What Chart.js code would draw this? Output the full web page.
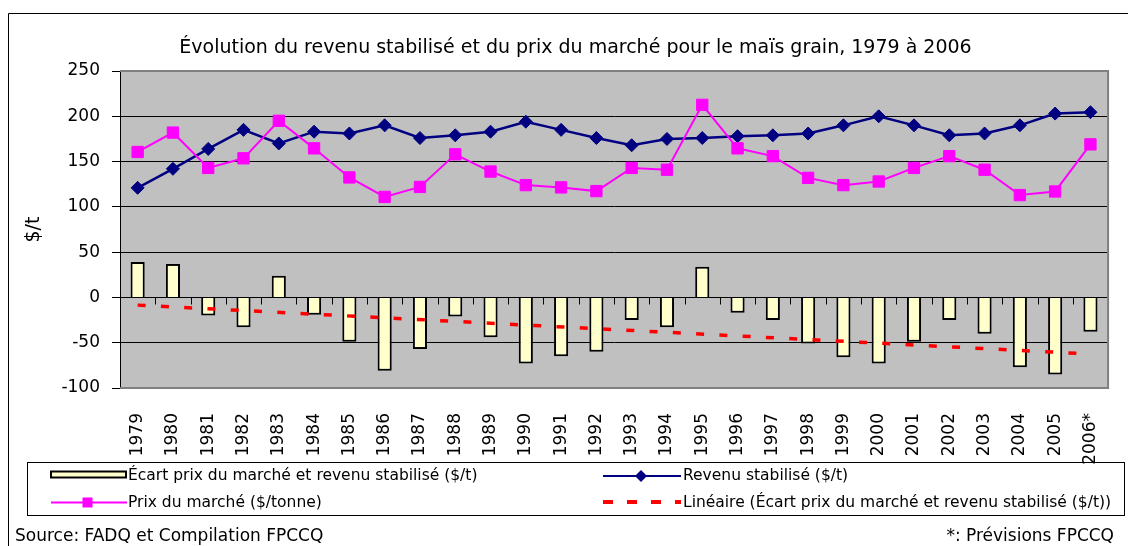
<!DOCTYPE html>
<html>
<head>
<meta charset="utf-8">
<script src="https://cdn.jsdelivr.net/npm/chart.js@4/dist/chart.umd.min.js"></script>
<style>
  html, body { margin: 0; padding: 0; background: #fff; overflow: hidden; }
  #wrap { position: relative; width: 1128px; height: 546px; }
  #chart { position: absolute; left: 0; top: 0; }
  #overlay { position: absolute; left: 0; top: 0; pointer-events: none; }
</style>
</head>
<body>
<div id="wrap">
  <canvas id="chart" width="1128" height="546"></canvas>
  <!-- frame, legend and source notes -->
  <svg id="overlay" width="1128" height="546" font-family="DejaVu Sans" fill="#000">
    <path d="M8.5 546 V13.5 H1128" stroke="#000" stroke-width="1" fill="none"/>
    <rect x="27.5" y="462.5" width="1097" height="53" stroke="#000" stroke-width="1" fill="none"/>

    <rect x="51" y="471.5" width="75" height="6" fill="#FFFFCC" stroke="#000" stroke-width="2"/>
    <text x="128" y="475" font-size="15.5" dominant-baseline="central">Écart prix du marché et revenu stabilisé ($/t)</text>

    <line x1="51" y1="502.5" x2="127" y2="502.5" stroke="#FF00FF" stroke-width="2"/>
    <rect x="82.5" y="497.5" width="10" height="10" fill="#FF00FF"/>
    <text x="128" y="502" font-size="15.5" dominant-baseline="central">Prix du marché ($/tonne)</text>

    <line x1="603" y1="476" x2="681" y2="476" stroke="#000080" stroke-width="2"/>
    <path d="M641 470 L647 476 L641 482 L635 476 Z" fill="#000080"/>
    <text x="683" y="475" font-size="15.5" dominant-baseline="central">Revenu stabilisé ($/t)</text>

    <line x1="603" y1="502" x2="681" y2="502" stroke="#FF0000" stroke-width="4" stroke-dasharray="10 14"/>
    <text x="683" y="502" font-size="15.5" dominant-baseline="central">Linéaire (Écart prix du marché et revenu stabilisé ($/t))</text>

    <text x="15" y="535" font-size="17" dominant-baseline="central">Source: FADQ et Compilation FPCCQ</text>
    <text x="1114" y="535" font-size="17" dominant-baseline="central" text-anchor="end">*: Prévisions FPCCQ</text>
  </svg>
</div>
<script>
const years = ['1979', '1980', '1981', '1982', '1983', '1984', '1985', '1986', '1987', '1988',
  '1989', '1990', '1991', '1992', '1993', '1994', '1995', '1996', '1997', '1998',
  '1999', '2000', '2001', '2002', '2003', '2004', '2005', '2006*'];

const ecart = [39, 37, -20, -33, 24, -19, -49, -81, -57, -21, -44, -73, -65, -60,
  -25, -33, 34, -17, -25, -51, -66, -73, -49, -25, -40, -77, -85, -38];

const revenu = [121, 142, 164, 185, 170, 183, 181, 190, 176, 179, 183, 194, 185, 176,
  168, 175, 176, 178, 179, 181, 190, 200, 190, 179, 181, 190, 203, 204.5];

const prix = [160.6, 182, 143, 153.6, 195, 164.6, 132.5, 111, 122, 158, 139, 124, 121.5, 117.4,
  143, 141, 212.6, 164.6, 156, 132, 124, 128, 143, 156, 141, 113, 117, 169];

// linear trend of the gap, read at first and last year
const trendEnds = [-8.5, -62.5];

const yTicks = [-100, -50, 0, 50, 100, 150, 200, 250];

const trend = years.map((_, i) => i === 0 ? trendEnds[0] : (i === years.length - 1 ? trendEnds[1] : null));

const plotFrame = {
  id: 'plotFrame',
  beforeDraw(chart) {
    const { ctx, chartArea: a } = chart;
    ctx.save();
    ctx.fillStyle = '#fff';
    ctx.fillRect(0, 0, chart.width, chart.height);
    ctx.fillStyle = '#C0C0C0';
    ctx.fillRect(a.left, a.top, a.right - a.left, a.bottom - a.top);
    ctx.restore();
  },
  beforeDatasetsDraw(chart) {
    // small tick marks on the zero line, between categories
    const { ctx, scales: { x, y } } = chart;
    const y0 = Math.round(y.getPixelForValue(0)) + 0.5;
    ctx.save();
    ctx.strokeStyle = '#000';
    ctx.lineWidth = 1;
    ctx.beginPath();
    for (let i = 0; i <= years.length; i++) {
      let px;
      if (i === 0) px = x.left;
      else if (i === years.length) px = x.right;
      else px = (x.getPixelForValue(i - 1) + x.getPixelForValue(i)) / 2;
      px = Math.round(px) + 0.5;
      ctx.moveTo(px, y0);
      ctx.lineTo(px, y0 + 7);
    }
    ctx.stroke();
    ctx.restore();
  },
  afterDraw(chart) {
    const { ctx, chartArea: a } = chart;
    ctx.save();
    ctx.strokeStyle = '#808080';
    ctx.lineWidth = 2;
    ctx.beginPath();
    ctx.moveTo(a.left, a.top);
    ctx.lineTo(a.right, a.top);
    ctx.lineTo(a.right, a.bottom);
    ctx.lineTo(a.left, a.bottom);
    ctx.stroke();
    ctx.restore();
  }
};

new Chart(document.getElementById('chart'), {
  type: 'bar',
  data: {
    labels: years,
    datasets: [
      {
        type: 'bar',
        label: 'Écart prix du marché et revenu stabilisé ($/t)',
        data: ecart,
        backgroundColor: '#FFFFCC',
        borderColor: '#000',
        borderWidth: 2,
        barPercentage: 0.4,
        categoryPercentage: 1,
        order: 4
      },
      {
        type: 'line',
        label: 'Revenu stabilisé ($/t)',
        data: revenu,
        borderColor: '#000080',
        backgroundColor: '#000080',
        borderWidth: 2.5,
        pointStyle: 'rectRot',
        pointRadius: 6.5,
        pointBorderWidth: 1,
        tension: 0,
        order: 3
      },
      {
        type: 'line',
        label: 'Prix du marché ($/tonne)',
        data: prix,
        borderColor: '#FF00FF',
        backgroundColor: '#FF00FF',
        borderWidth: 2,
        pointStyle: 'rect',
        pointRadius: 8,
        pointBorderWidth: 1,
        tension: 0,
        order: 2
      },
      {
        type: 'line',
        label: 'Linéaire (Écart prix du marché et revenu stabilisé ($/t))',
        data: trend,
        spanGaps: true,
        borderColor: '#FF0000',
        borderWidth: 3.5,
        borderDash: [8, 15.3],
        borderCapStyle: 'butt',
        pointRadius: 0,
        order: 1
      }
    ]
  },
  options: {
    responsive: false,
    animation: false,
    events: [],
    layout: { padding: { left: 28, right: 5, top: 0, bottom: 0 } },
    plugins: {
      legend: { display: false },
      tooltip: { enabled: false },
      title: {
        display: true,
        text: 'Évolution du revenu stabilisé et du prix du marché pour le maïs grain, 1979 à 2006',
        color: '#000',
        font: { family: 'DejaVu Sans', size: 19, weight: 'normal' },
        padding: { top: 37, bottom: 11.2 }
      }
    },
    scales: {
      x: {
        offset: true,
        grid: { display: false },
        border: { display: false },
        ticks: {
          color: '#000',
          font: { family: 'DejaVu Sans', size: 17 },
          minRotation: 90,
          maxRotation: 90,
          autoSkip: false,
          padding: 17
        },
        afterFit(scale) { scale.height = 158; }
      },
      y: {
        min: yTicks[0],
        max: yTicks[yTicks.length - 1],
        afterBuildTicks(scale) { scale.ticks = yTicks.map(v => ({ value: v })); },
        grid: {
          color: ctx => (ctx.tick && ctx.tick.value === 250) ? 'rgba(0,0,0,0)' : '#000',
          tickColor: '#000',
          tickLength: 8,
          lineWidth: 1
        },
        border: { display: true, color: '#000', width: 1 },
        ticks: {
          color: '#000',
          font: { family: 'DejaVu Sans', size: 17 },
          padding: 12
        },
        title: {
          display: true,
          text: '$/t',
          color: '#000',
          font: { family: 'DejaVu Sans', size: 19, lineHeight: 0.6 },
          padding: { top: 0, bottom: 0 }
        },
        afterFit(scale) { scale.width = 92; }
      }
    }
  },
  plugins: [plotFrame]
});
</script>
</body>
</html>
